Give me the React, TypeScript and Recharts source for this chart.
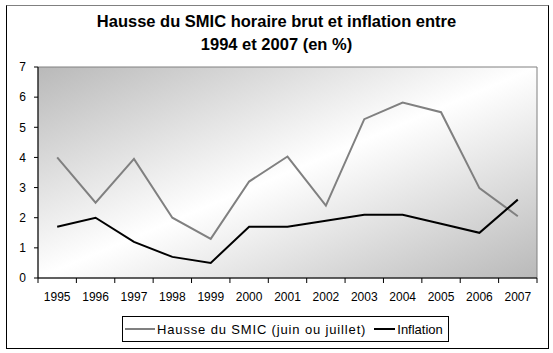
import React from "react";
import {
  LineChart,
  Line,
  XAxis,
  YAxis,
  ReferenceArea,
} from "recharts";

const years = [
  "1995", "1996", "1997", "1998", "1999", "2000", "2001",
  "2002", "2003", "2004", "2005", "2006", "2007",
];
const smic = [4.0, 2.5, 3.95, 2.0, 1.3, 3.2, 4.03, 2.4, 5.27, 5.82, 5.5, 2.98, 2.05];
const inflation = [1.7, 2.0, 1.2, 0.7, 0.5, 1.7, 1.7, 1.9, 2.1, 2.1, 1.8, 1.5, 2.6];
const yTicks = [0, 1, 2, 3, 4, 5, 6, 7];

const data = years.map((y, i) => ({ i, year: y, smic: smic[i], inflation: inflation[i] }));
// tick marks sit on category boundaries, labels in the middle of each band
const boundaryTicks = [...years.map((_, i) => i - 0.5), years.length - 0.5];

const FONT = '"Liberation Sans", Arial, sans-serif';
const PLOT_LEFT = 38;
const PLOT_RIGHT = 537;
const BAND = (PLOT_RIGHT - PLOT_LEFT) / years.length;

const YearTick = (props: any) => {
  const { x, y, payload } = props;
  const idx = Math.round(payload.value + 0.5);
  if (idx >= years.length) return null;
  return (
    <text x={x + BAND / 2} y={y} dy="0.71em" textAnchor="middle" fill="#000" fontSize={12} fontFamily={FONT}>
      {years[idx]}
    </text>
  );
};

export default function App() {
  return (
    <div style={{ position: "absolute", left: 0, top: 0, width: 553, height: 353, background: "#fff", fontFamily: FONT }}>
      <div
        style={{
          position: "absolute",
          left: 6,
          top: 5,
          width: 541,
          height: 342,
          borderTop: "1px solid #808080",
          borderLeft: "1px solid #000",
          borderRight: "1px solid #000",
          borderBottom: "1px solid #000",
        }}
      />
      <div
        style={{
          position: "absolute",
          left: 6,
          top: 10,
          width: 541,
          textAlign: "center",
          fontWeight: "bold",
          fontSize: 16.5,
          lineHeight: "23px",
          color: "#000",
        }}
      >
        Hausse du SMIC horaire brut et inflation entre
        <br />
        1994 et 2007 (en %)
      </div>
      <div style={{ position: "absolute", left: 0, top: 0 }}>
        <LineChart width={553} height={353} data={data} margin={{ top: 67, right: 553 - PLOT_RIGHT, bottom: 45, left: 8 }}>
          <defs>
            <linearGradient id="plotBg" x1="0" y1="0" x2="1" y2="1">
              <stop offset="0%" stopColor="#b9b9b9" />
              <stop offset="50%" stopColor="#ffffff" />
              <stop offset="100%" stopColor="#b9b9b9" />
            </linearGradient>
          </defs>
          <ReferenceArea x1={-0.5} x2={12.5} y1={0} y2={7} fill="url(#plotBg)" fillOpacity={1} stroke="#808080" strokeWidth={1} />
          <XAxis
            dataKey="i"
            type="number"
            domain={[-0.5, 12.5]}
            ticks={boundaryTicks}
            interval={0}
            height={30}
            tickSize={5}
            tickMargin={9}
            axisLine={{ stroke: "#000" }}
            tickLine={{ stroke: "#000" }}
            tick={<YearTick />}
          />
          <YAxis
            type="number"
            domain={[0, 7]}
            ticks={yTicks}
            interval={0}
            width={30}
            tickSize={4}
            tickMargin={8}
            axisLine={{ stroke: "#000" }}
            tickLine={{ stroke: "#000" }}
            tick={{ fill: "#000", fontSize: 12, fontFamily: FONT }}
          />
          <Line type="linear" dataKey="smic" stroke="#808080" strokeWidth={2} dot={false} isAnimationActive={false} />
          <Line type="linear" dataKey="inflation" stroke="#000" strokeWidth={2} dot={false} isAnimationActive={false} />
        </LineChart>
      </div>
      <div
        style={{
          position: "absolute",
          left: 122,
          top: 316,
          width: 325,
          height: 24,
          border: "1px solid #000",
          background: "#fff",
          display: "flex",
          alignItems: "center",
          fontSize: 13,
          color: "#000",
          whiteSpace: "nowrap",
        }}
      >
        <span style={{ display: "inline-block", width: 30, height: 2, background: "#808080", marginLeft: 2, marginRight: 2 }} />
        <span style={{ letterSpacing: 0.85 }}>Hausse du SMIC (juin ou juillet)</span>
        <span style={{ display: "inline-block", width: 21, height: 2, background: "#000", marginLeft: 8, marginRight: 2 }} />
        <span>Inflation</span>
      </div>
    </div>
  );
}
